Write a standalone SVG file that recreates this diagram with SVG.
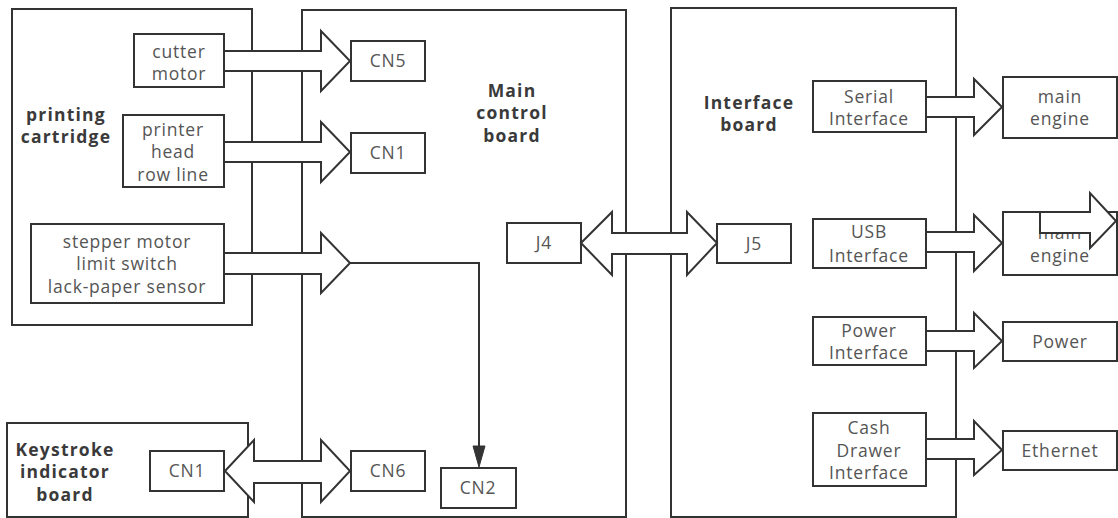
<svg xmlns="http://www.w3.org/2000/svg" width="1118" height="518" viewBox="0 0 1118 518">
<style>
.b{fill:#fff;stroke:#333;stroke-width:2}
.a{fill:#fff;stroke:#333;stroke-width:2;stroke-linejoin:miter}
.t{font-family:"Open Sans","Noto Sans",sans-serif;font-size:17.5px;letter-spacing:0.8px;fill:#555;text-anchor:middle}
.h{font-family:"Open Sans","Noto Sans",sans-serif;font-size:17.5px;letter-spacing:1.2px;font-weight:bold;fill:#3a3a3a;text-anchor:middle}
.l{fill:none;stroke:#333;stroke-width:2}
</style>
<rect width="1118" height="518" fill="#fff"/>
<g id="printing-cartridge">
<rect class="b" x="12" y="9" width="240" height="316"/>
<text class="h" x="66" y="121">printing</text>
<text class="h" x="66" y="143">cartridge</text>
</g>
<g id="main-control-board">
<rect class="b" x="302" y="10" width="324" height="507"/>
<text class="h" x="512" y="97">Main</text>
<text class="h" x="512" y="119">control</text>
<text class="h" x="512" y="142">board</text>
</g>
<g id="interface-board">
<rect class="b" x="671" y="8" width="285" height="509"/>
<text class="h" x="749" y="109">Interface</text>
<text class="h" x="749" y="131">board</text>
</g>
<g id="keystroke-board">
<rect class="b" x="7" y="423" width="241" height="94"/>
<text class="h" x="65" y="456">Keystroke</text>
<text class="h" x="65" y="478">indicator</text>
<text class="h" x="65" y="501">board</text>
</g>
<g id="cutter-motor">
<rect class="b" x="134" y="34" width="90" height="53"/>
<text class="t" x="179" y="58">cutter</text>
<text class="t" x="179" y="80">motor</text>
</g>
<g id="printer-head">
<rect class="b" x="123" y="115" width="101" height="72"/>
<text class="t" x="173" y="136">printer</text>
<text class="t" x="173" y="158">head</text>
<text class="t" x="173" y="181">row line</text>
</g>
<g id="stepper">
<rect class="b" x="31" y="224" width="193" height="79"/>
<text class="t" x="127" y="248">stepper motor</text>
<text class="t" x="127" y="270">limit switch</text>
<text class="t" x="127" y="293">lack-paper sensor</text>
</g>
<g id="cn5">
<rect class="b" x="351" y="41" width="74" height="40"/>
<text class="t" x="388" y="67">CN5</text>
</g>
<g id="cn1-main">
<rect class="b" x="351" y="133" width="74" height="40"/>
<text class="t" x="388" y="159">CN1</text>
</g>
<g id="j4">
<rect class="b" x="507" y="223" width="74" height="40"/>
<text class="t" x="544" y="249">J4</text>
</g>
<g id="j5">
<rect class="b" x="717" y="224" width="74" height="39"/>
<text class="t" x="754" y="250">J5</text>
</g>
<g id="cn1-key">
<rect class="b" x="150" y="451" width="74" height="40"/>
<text class="t" x="187" y="477">CN1</text>
</g>
<g id="cn6">
<rect class="b" x="351" y="451" width="74" height="40"/>
<text class="t" x="388" y="477">CN6</text>
</g>
<g id="cn2">
<rect class="b" x="441" y="468" width="75" height="40"/>
<text class="t" x="478" y="494">CN2</text>
</g>
<g id="serial-interface">
<rect class="b" x="813" y="81" width="113" height="51"/>
<text class="t" x="869" y="103">Serial</text>
<text class="t" x="869" y="125">Interface</text>
</g>
<g id="usb-interface">
<rect class="b" x="813" y="219" width="113" height="49"/>
<text class="t" x="869" y="238">USB</text>
<text class="t" x="869" y="262">Interface</text>
</g>
<g id="power-interface">
<rect class="b" x="813" y="317" width="113" height="48"/>
<text class="t" x="869" y="337">Power</text>
<text class="t" x="869" y="359">Interface</text>
</g>
<g id="cash-drawer-interface">
<rect class="b" x="813" y="413" width="113" height="73"/>
<text class="t" x="869" y="434">Cash</text>
<text class="t" x="869" y="457">Drawer</text>
<text class="t" x="869" y="479">Interface</text>
</g>
<g id="main-engine-1">
<rect class="b" x="1003" y="77" width="114" height="61"/>
<text class="t" x="1060" y="103">main</text>
<text class="t" x="1060" y="125">engine</text>
</g>
<g id="main-engine-2">
<rect class="b" x="1003" y="212" width="114" height="63"/>
<text class="t" x="1060" y="239">main</text>
<text class="t" x="1060" y="262">engine</text>
</g>
<g id="power">
<rect class="b" x="1003" y="322" width="114" height="39"/>
<text class="t" x="1060" y="348">Power</text>
</g>
<g id="ethernet">
<rect class="b" x="1003" y="431" width="114" height="39"/>
<text class="t" x="1060" y="457">Ethernet</text>
</g>
<g id="connectors">
<polygon class="a" points="224,51 321,51 321,31 350,61 321,91 321,71 224,71"/>
<polygon class="a" points="224,142 321,142 321,122 350,152 321,182 321,162 224,162"/>
<polygon class="a" points="224,253 321,253 321,233 350,263 321,293 321,274 224,274"/>
<polyline class="l" points="350,263 479,263 479,448"/>
<polygon points="473,446 485,446 479,467" fill="#333" stroke="#333" stroke-width="1"/>
<polygon class="a" points="581,243 612,212 612,233 687,233 687,212 717,243 687,275 687,254 612,254 612,275"/>
<polygon class="a" points="225,471 254,440 254,461 321,461 321,440 350,471 321,502 321,483 254,483 254,502"/>
<polygon class="a" points="926,97 974,97 974,79 1002,107 974,135 974,117 926,117"/>
<polygon class="a" points="926,232 974,232 974,215 1002,243 974,271 974,252 926,252"/>
<polygon class="a" points="926,331 974,331 974,313 1002,341 974,368 974,351 926,351"/>
<polygon class="a" points="926,439 974,439 974,421 1002,450 974,475 974,459 926,459"/>
<polygon class="a" points="1040,212 1090,212 1090,193 1116,221 1090,248 1090,233 1040,233"/>
</g>
</svg>
